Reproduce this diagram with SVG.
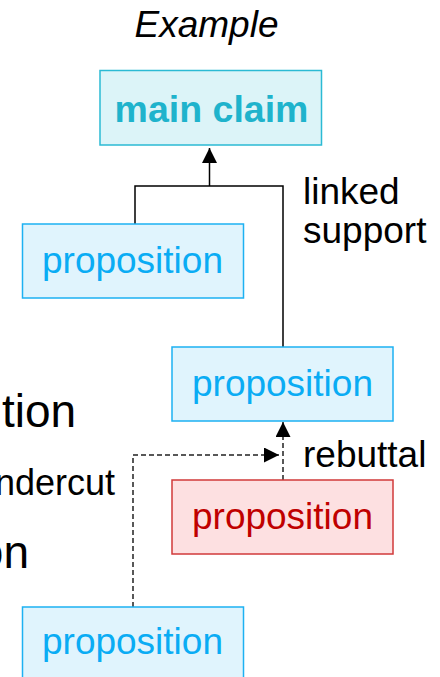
<svg xmlns="http://www.w3.org/2000/svg" width="440" height="677" viewBox="0 0 440 677">
<defs>
<style>
text{font-family:"Liberation Sans",Arial,sans-serif;}
.prop rect{fill:#e0f4fd;stroke:#1db1f2;stroke-width:1.5;}
.prop text{fill:#0aacf4;font-size:37px;text-anchor:middle;}
.red rect{fill:#fde0e1;stroke:#d13a3a;stroke-width:1.5;}
.red text{fill:#c00000;font-size:37px;text-anchor:middle;}
.lbl{fill:#000;font-size:37px;}
.solid{fill:none;stroke:#000;stroke-width:1.5;}
.dash{fill:none;stroke:#222;stroke-width:1.5;stroke-dasharray:5 3;}
</style>
<marker id="ah" viewBox="0 0 15 15" refX="15" refY="7.5" markerWidth="15" markerHeight="15" markerUnits="userSpaceOnUse" orient="auto">
<path d="M0,0 L15,7.5 L0,15 z" fill="#000"/>
</marker>
</defs>
<rect width="440" height="677" fill="#fff"/>
<text x="206.5" y="37" font-size="37" font-style="italic" text-anchor="middle" fill="#000">Example</text>
<g id="left-texts">
<text class="lbl" x="2" y="427" style="font-size:46px">tion</text>
<text class="lbl" x="115" y="495" text-anchor="end" style="font-size:36px">ndercut</text>
<text class="lbl" x="29" y="568" text-anchor="end" style="font-size:46px">on</text>
</g>
<g id="connectors">
<path class="solid" d="M135,224 V186 H283 V347"/>
<path class="solid" d="M209.5,186 V148" marker-end="url(#ah)"/>
<path class="dash" d="M283,480 V422" marker-end="url(#ah)"/>
<path class="dash" d="M133,607 V455 H279" marker-end="url(#ah)"/>
<text class="lbl" x="303" y="204">linked</text>
<text class="lbl" x="303" y="243">support</text>
<text class="lbl" x="303" y="467">rebuttal</text>
</g>
<g id="main-claim">
<rect x="100" y="70.5" width="221.5" height="74.5" fill="#dcf4f8" stroke="#2bbad4" stroke-width="1.5"/>
<text x="211.5" y="122" font-size="37.5" font-weight="bold" text-anchor="middle" fill="#1fb3cc">main claim</text>
</g>
<g id="prop1" class="prop">
<rect x="22.5" y="224" width="221" height="74"/>
<text x="132.5" y="272.5">proposition</text>
</g>
<g id="prop2" class="prop">
<rect x="172" y="347" width="221" height="74"/>
<text x="282.5" y="395.5">proposition</text>
</g>
<g id="prop3" class="red">
<rect x="172" y="480" width="221" height="74"/>
<text x="282.5" y="528.5">proposition</text>
</g>
<g id="prop4" class="prop">
<rect x="22.5" y="607" width="221" height="76"/>
<text x="132.5" y="654">proposition</text>
</g>
</svg>
